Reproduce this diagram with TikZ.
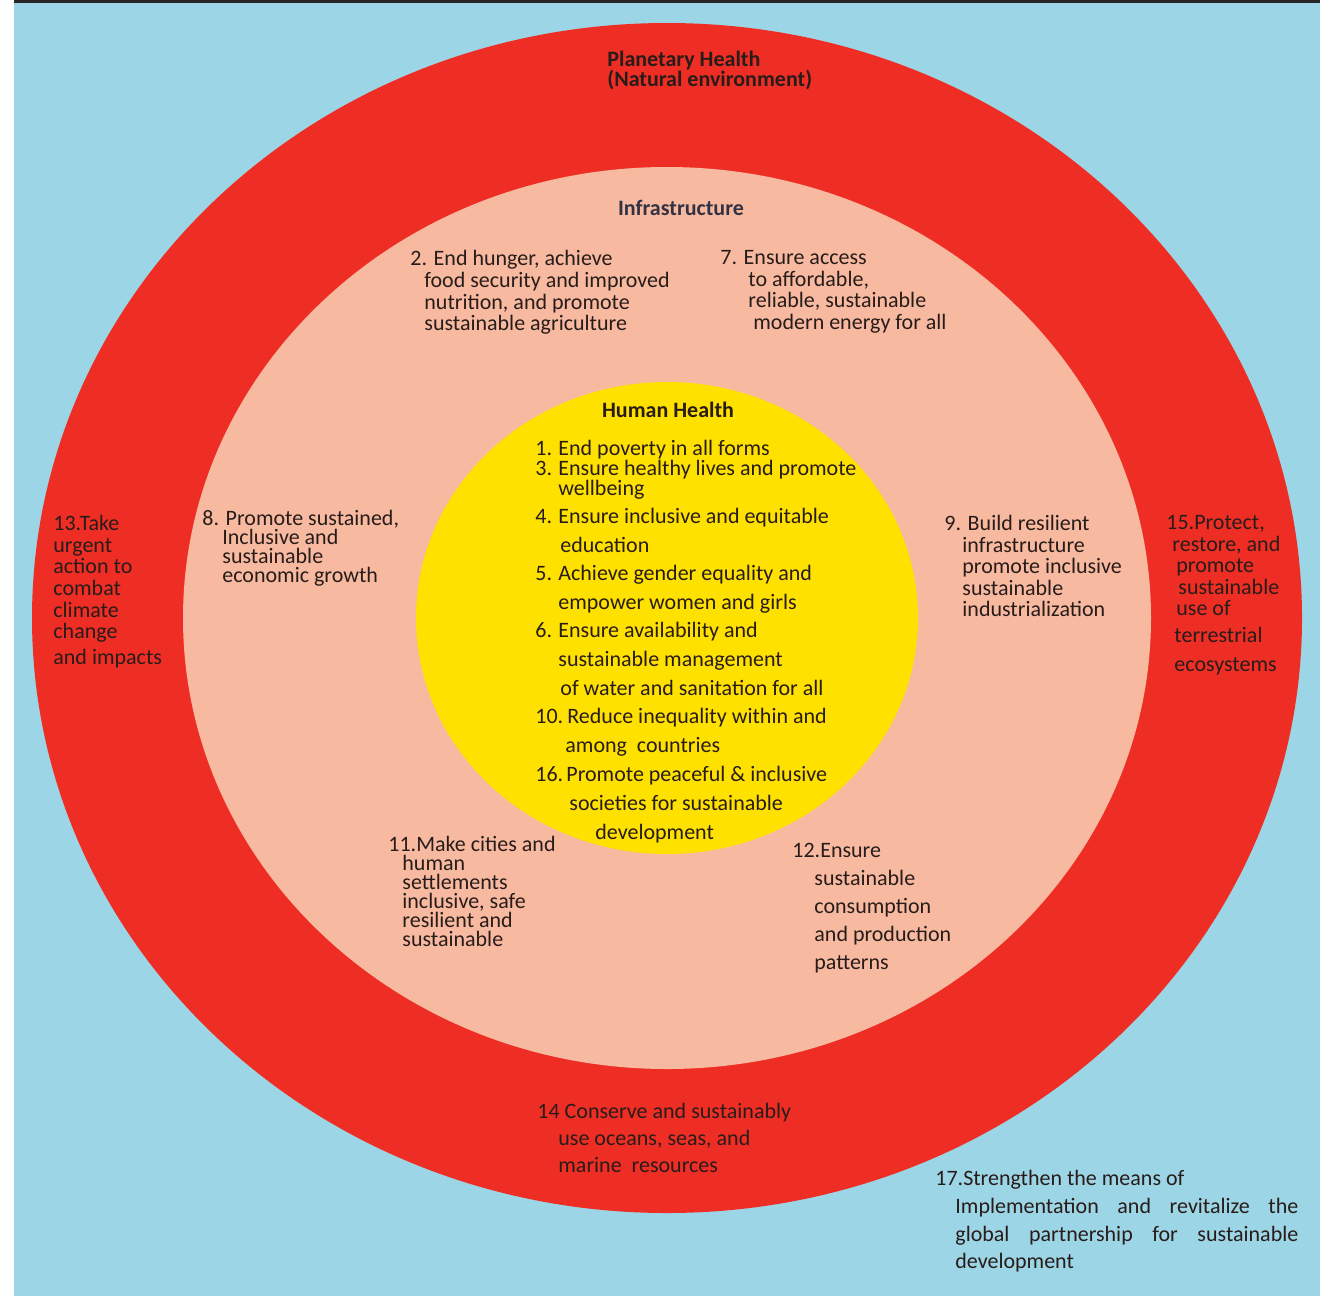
\documentclass[tikz,border=0pt]{standalone}
\usepackage{fontspec}
\setmainfont{Carlito}
\usetikzlibrary{calc}

\definecolor{skyblue}{RGB}{156,213,229}
\definecolor{ringred}{RGB}{238,46,36}
\definecolor{peach}{RGB}{247,186,160}
\definecolor{coreyellow}{RGB}{255,225,0}
\definecolor{ink}{RGB}{40,28,26}
\definecolor{slate}{RGB}{50,50,68}

\newcommand{\gfont}[1]{\fontsize{11pt}{#1}\selectfont\lineskiplimit=-\maxdimen}

\begin{document}
\begin{tikzpicture}[x=0.5pt, y=-0.5pt,
  goal/.style={anchor=north west, inner sep=0pt, align=left, text=ink, yshift=-1.5pt},
  title/.style={anchor=base, inner sep=0pt, font=\gfont{12pt}\bfseries, text=ink, yshift=-1pt},
  sdg/.style={goal, font=\gfont{14.35pt}}]
\def\Rx{635}
\def\Ry{595}
\def\rx{484}
\def\ry{451}
\def\cx{251}
\def\cy{236}

\coordinate (O) at (667,618);

\useasboundingbox (0,0) rectangle (1332,1296);
\fill[black!85] (14,0) rectangle (1320,3);
\fill[skyblue] (14,3) rectangle (1320,1296);

\fill[ringred] (O) ellipse [x radius=\Rx, y radius=\Ry];
\fill[peach] (O) ellipse [x radius=\rx, y radius=\ry];
\fill[coreyellow] (O) ellipse [x radius=\cx, y radius=\cy];

\node[goal, font=\gfont{10pt}\bfseries] (planet) at (607,48) {Planetary Health\\(Natural environment)};
\node[title, text=slate] (infra) at (681,213) {Infrastructure};
\node[title] (human) at (668,415) {Human Health};

\node[goal, font=\gfont{10.85pt}] (g2) at (410,247) {2. End hunger, achieve\\\hspace*{7pt}food security and improved\\\hspace*{7pt}nutrition, and promote\\\hspace*{7pt}sustainable agriculture};
\node[goal, font=\gfont{10.85pt}] (g7) at (720,247) {7. Ensure access\\\hspace*{14pt}to affordable,\\\hspace*{14pt}reliable, sustainable\\\hspace*{16.5pt}modern energy for all};
\node[goal, font=\gfont{9.5pt}] (g8) at (202,507) {8. Promote sustained,\\\hspace*{10pt}Inclusive and\\\hspace*{10pt}sustainable\\\hspace*{10pt}economic growth};
\node[goal, font=\gfont{10.75pt}] (g9) at (944,512) {9. Build resilient\\\hspace*{9pt}infrastructure\\\hspace*{9pt}promote inclusive\\\hspace*{9pt}sustainable\\\hspace*{9pt}industrialization};
\node[goal, font=\gfont{9.5pt}] (g11) at (388,833) {11.Make cities and\\\hspace*{7pt}human\\\hspace*{7pt}settlements\\\hspace*{7pt}inclusive, safe\\\hspace*{7pt}resilient and\\\hspace*{7pt}sustainable};
\node[goal, font=\gfont{14pt}] (g12) at (792,840) {12.Ensure\\\hspace*{11pt}sustainable\\\hspace*{11pt}consumption\\\hspace*{11pt}and production\\\hspace*{11pt}patterns};

\node[goal, font=\gfont{10.8pt}] (g13) at (53,512) {13.Take\\urgent\\action to\\combat\\climate\\change\\[2.2pt]and impacts};
\node[goal, font=\gfont{10.75pt}] (g15) at (1166,512) {15.Protect,\\\hspace*{3pt}restore, and\\\hspace*{5pt}promote\\\hspace*{6pt}sustainable\\\hspace*{5pt}use of\\[2.75pt]\hspace*{4pt}terrestrial\\[3.75pt]\hspace*{4pt}ecosystems};
\node[goal, font=\gfont{13.5pt}] (g14) at (537,1100) {14 Conserve and sustainably\\\hspace*{10.5pt}use oceans, seas, and\\\hspace*{10.5pt}marine\ \ resources};
\node[goal, font=\gfont{13.85pt}] (g17) at (935,1167) {17.Strengthen the means of\\\hspace*{10pt}\makebox[171.5pt][s]{Implementation and revitalize the}\\\hspace*{10pt}\makebox[171.5pt][s]{global partnership for sustainable}\\\hspace*{10pt}development};

\node[sdg] (g1) at (535,437) {\makebox[11.5pt][l]{1.}End poverty in all forms};
\node[sdg, font=\gfont{10pt}] (g3) at (535,457) {\makebox[11.5pt][l]{3.}Ensure healthy lives and promote\\\hspace*{11.5pt}wellbeing};
\node[sdg] (g4) at (535,505) {\makebox[11.5pt][l]{4.}Ensure inclusive and equitable\\\hspace*{12.5pt}education};
\node[sdg] (g5) at (535,562) {\makebox[11.5pt][l]{5.}Achieve gender equality and\\\hspace*{11.5pt}empower women and girls};
\node[sdg] (g6) at (535,619) {\makebox[11.5pt][l]{6.}Ensure availability and\\\hspace*{11.5pt}sustainable management\\\hspace*{12.5pt}of water and sanitation for all};
\node[sdg] (g10) at (535,705) {\makebox[16pt][l]{10.}Reduce inequality within and\\\hspace*{15pt}among\ \ countries};
\node[sdg] (g16) at (535,763) {\makebox[15.5pt][l]{16.}Promote peaceful \& inclusive\\\hspace*{17pt}societies for sustainable\\\hspace*{30pt}development};
\end{tikzpicture}
\end{document}
